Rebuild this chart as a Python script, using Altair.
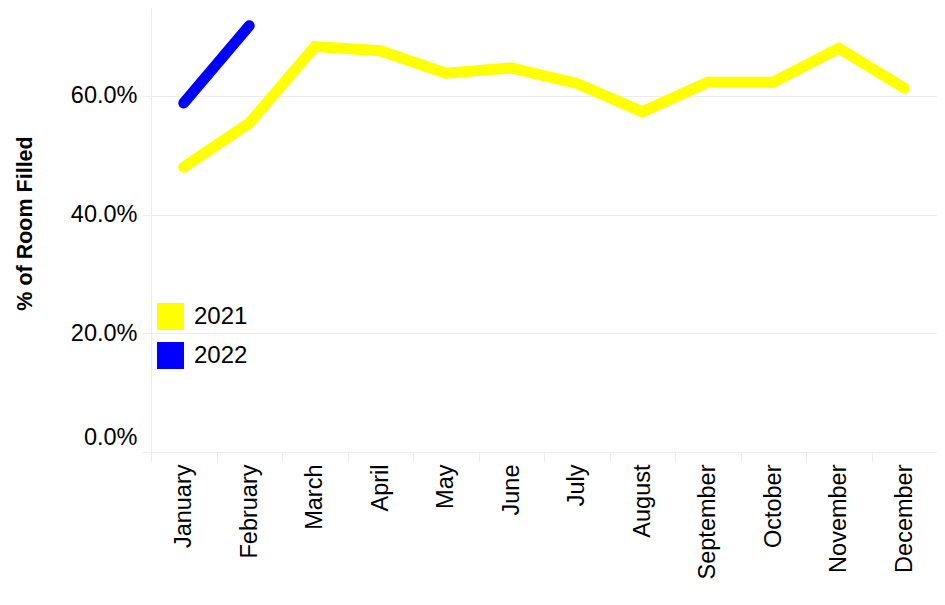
import altair as alt
import pandas as pd

months = ["January", "February", "March", "April", "May", "June", "July",
          "August", "September", "October", "November", "December"]
fill_2021 = [0.480, 0.554, 0.683, 0.676, 0.638, 0.647, 0.621, 0.573, 0.623, 0.623, 0.680, 0.613]
fill_2022 = [0.588, 0.718]
years = ["2021", "2022"]
colors = ["#FFFF00", "#0000FF"]

rows = [{"Month": m, "Year": "2021", "Fill": v} for m, v in zip(months, fill_2021)]
rows += [{"Month": m, "Year": "2022", "Fill": v} for m, v in zip(months, fill_2022)]
df = pd.DataFrame(rows)

grid = "#ececec"

x_enc = alt.X("Month:N", sort=months, title=None,
              scale=alt.Scale(paddingInner=0, paddingOuter=0),
              axis=alt.Axis(labelAngle=-90, labelAlign="right", labelBaseline="middle",
                            labelFont="Liberation Sans", labelFontSize=23.5, labelColor="black",
                            labelPadding=2, tickBand="extent", tickColor=grid, tickSize=10,
                            domainColor=grid, grid=False))
y_enc = alt.Y("Fill:Q", title="% of Room Filled",
              scale=alt.Scale(domain=[0, 0.748], nice=False),
              axis=alt.Axis(format=".1%", values=[0, 0.2, 0.4, 0.6],
                            labelFont="Liberation Sans", labelFontSize=23.5, labelColor="black",
                            labelPadding=5, tickColor=grid, tickSize=9, gridColor=grid,
                            labelOffset={"condition": {"test": "datum.value == 0", "value": -15},
                                         "value": 0},
                            domainColor=grid, titleFont="Liberation Sans", titleFontSize=21.5,
                            titleFontWeight="bold", titleColor="black", titlePadding=34,
                            titleY=215))
c_enc = alt.Color("Year:N", scale=alt.Scale(domain=years, range=colors),
                  legend=alt.Legend(title=None, orient="none", legendX=6, legendY=295,
                                    symbolType="square", symbolSize=729, symbolOpacity=1,
                                    symbolStrokeWidth=0, rowPadding=12, padding=0,
                                    labelFont="Liberation Sans", labelFontSize=24,
                                    labelColor="black", labelOffset=10))

base = alt.Chart(df).encode(x=x_enc, y=y_enc, color=c_enc)

# legend carrier: filled squares, no rows drawn
key = base.mark_square(filled=True, size=729, opacity=1).transform_filter("false")
lines = base.mark_line(strokeWidth=11, strokeCap="round").encode(order=alt.Order("Year:N"))

chart = alt.layer(key, lines).properties(
    width=786, height=444,
    autosize=alt.AutoSizeParams(type="none"),
    padding={"left": 143, "top": 0, "right": 0, "bottom": 150},
).configure_view(strokeWidth=0)

chart.save("out.html", embed_options={"renderer": "svg", "actions": False})
